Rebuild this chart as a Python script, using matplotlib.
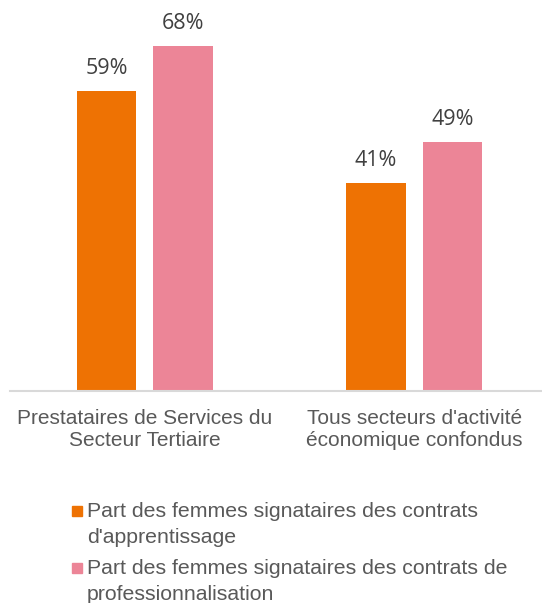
import matplotlib
matplotlib.use('Agg')
import matplotlib.pyplot as plt
import numpy as np

categories = ["Prestataires de Services du\nSecteur Tertiaire",
              "Tous secteurs d'activité\néconomique confondus"]
apprentissage = [59, 41]
professionnalisation = [68, 49]
series_names = ["Part des femmes signataires des contrats\nd'apprentissage",
                "Part des femmes signataires des contrats de\nprofessionnalisation"]

orange = '#EE7203'
pink = '#EC8597'
text_grey = '#595959'

plt.rcParams['font.family'] = ['Liberation Sans', 'DejaVu Sans']

fig = plt.figure(figsize=(5.42, 6.03), dpi=100)
# axes from x=10px, baseline at y=391px
ax = fig.add_axes([10 / 542, (603 - 391) / 603, 539 / 542, 381 / 603])

x = np.arange(len(categories))
w = 0.222
off = 0.142
b1 = ax.bar(x - off, apprentissage, w, color=orange)
b2 = ax.bar(x + off, professionnalisation, w, color=pink)

for bars in (b1, b2):
    for r in bars:
        ax.annotate(f"{r.get_height():.0f}%", (r.get_x() + r.get_width() / 2, r.get_height()),
                    xytext=(0, 8.5), textcoords='offset points', ha='center', va='bottom',
                    fontsize=15.5, color='#404040', family=['Open Sans', 'DejaVu Sans'])

ax.set_xlim(-0.5, 1.5)
ax.set_ylim(0, 75)
ax.set_yticks([])
ax.set_xticks(x)
ax.set_xticklabels(categories, fontsize=15, color=text_grey, linespacing=1.2)
ax.tick_params(axis='x', length=0, pad=13)
for s in ['top', 'right', 'left']:
    ax.spines[s].set_visible(False)
ax.spines['bottom'].set_color('#D9D9D9')
ax.spines['bottom'].set_linewidth(1.5)

# legend drawn by hand so the square sits on the first line of each entry
first_baselines = [517, 574]
for name, color, yb in zip(series_names, [orange, pink], first_baselines):
    fig.patches.append(plt.Rectangle((72 / 542, 1 - (yb - 1) / 603), 10 / 542, 10 / 603,
                                     transform=fig.transFigure, color=color))
    for i, line in enumerate(name.split('\n')):
        fig.text(87 / 542, 1 - (yb + 26 * i) / 603, line, fontsize=15.3,
                 color=text_grey, ha='left', va='baseline')

fig.savefig('out.png', dpi=100)
